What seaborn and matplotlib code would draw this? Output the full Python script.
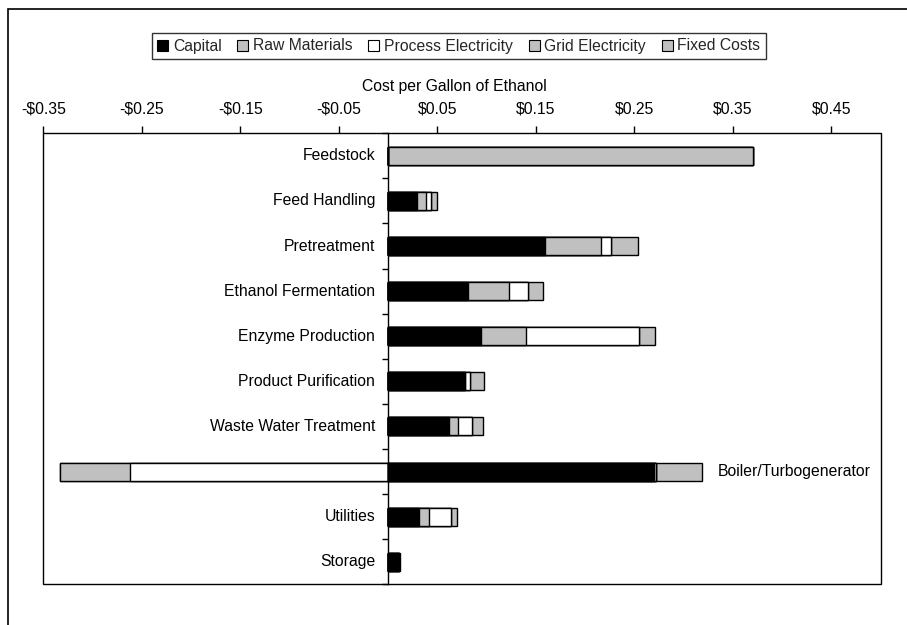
import numpy as np
import seaborn as sns
import matplotlib.pyplot as plt
import matplotlib.ticker as ticker
from matplotlib.patches import Patch, Rectangle

# --- DATA ---
categories = ["Feedstock", "Feed Handling", "Pretreatment", "Ethanol Fermentation",
              "Enzyme Production", "Product Purification", "Waste Water Treatment",
              "Boiler/Turbogenerator", "Utilities", "Storage"]
capital = [0.000, 0.029, 0.159, 0.081, 0.094, 0.078, 0.062, 0.270, 0.031, 0.011]
raw_materials = [0.370, 0.009, 0.057, 0.042, 0.046, 0.000, 0.009, 0.002, 0.010, 0.000]
process_electricity = [0.000, 0.006, 0.010, 0.019, 0.115, 0.005, 0.014, -0.262, 0.023, 0.000]
grid_electricity = [0.000, 0.000, 0.000, 0.000, 0.000, 0.000, 0.000, -0.071, 0.000, 0.000]
fixed_costs = [0.000, 0.006, 0.028, 0.015, 0.016, 0.014, 0.011, 0.047, 0.006, 0.0015]

series_names = ["Capital", "Raw Materials", "Process Electricity", "Grid Electricity", "Fixed Costs"]
series_values = [capital, raw_materials, process_electricity, grid_electricity, fixed_costs]
series_colors = ["black", "#C0C0C0", "white", "#C0C0C0", "#C0C0C0"]
x_ticks = [-0.35, -0.25, -0.15, -0.05, 0.05, 0.15, 0.25, 0.35, 0.45]

FS = 11.3

# --- SETUP ---
sns.set_theme(style="white")
plt.rcParams['font.family'] = ['Liberation Sans', 'DejaVu Sans']

W, H = 907, 625
fig = plt.figure(figsize=(W / 100, H / 100), dpi=100)
ax = fig.add_axes([43.3 / W, 1 - 584.3 / H, (880.7 - 43.3) / W, (584.3 - 133.3) / H])

# gestapelte Balken: kumulierte Summen, größte zuerst zeichnen (Überdeckung)
vals = np.array(series_values)
pos_cum = np.cumsum(np.clip(vals, 0, None), axis=0)
neg_cum = np.cumsum(np.clip(vals, None, 0), axis=0)

for k in range(len(series_names) - 1, -1, -1):
    for cum in (pos_cum, neg_cum):
        sns.barplot(x=cum[k], y=categories, orient='h', color=series_colors[k],
                    saturation=1, edgecolor='black', linewidth=1, width=0.4,
                    errorbar=None, ax=ax)

ax.set_xlim(-0.35, 0.5)
ax.set_ylim(len(categories) - 0.5, -0.5)

# obere x-Achse
ax.xaxis.tick_top()
ax.set_xticks(x_ticks)
ax.xaxis.set_major_formatter(ticker.FuncFormatter(
    lambda v, p: f"-${abs(v):.2f}" if v < 0 else f"${v:.2f}"))
ax.tick_params(axis='x', which='major', top=True, bottom=False, direction='out',
               length=5, width=1, pad=7, labelsize=FS, colors='black')
ax.set_xlabel("")
ax.set_ylabel("")

# y-Achse auf Null legen, Ticks zwischen den Kategorien
ax.spines['left'].set_position(('data', 0))
ax.spines['left'].set_color('black')
ax.spines['left'].set_linewidth(1)
for s in ['top', 'right', 'bottom']:
    ax.spines[s].set_visible(False)
ax.set_yticks([])
ax.set_yticks(np.arange(-0.5, len(categories), 1), minor=True)
ax.tick_params(axis='y', which='minor', left=True, direction='out', length=4,
               width=1, color='black', labelleft=False)
ax.grid(False)

# Rahmen Plotbereich
ax.add_patch(Rectangle((0, 0), 1, 1, transform=ax.transAxes, fill=False,
                       edgecolor='black', linewidth=1, clip_on=False, zorder=5))

# Kategoriebeschriftungen
totals_pos = pos_cum[-1]
totals_neg = neg_cum[-1]
for i, name in enumerate(categories):
    if totals_neg[i] < 0:
        ax.text(totals_pos[i] + 0.016, i, name, ha='left', va='center', fontsize=FS, color='black')
    else:
        ax.text(-0.013, i, name, ha='right', va='center', fontsize=FS, color='black')

# Achsentitel
fig.text(454 / W, 1 - 87 / H, "Cost per Gallon of Ethanol", ha='center', va='center',
         fontsize=FS, color='black')

# Legende
handles = [Patch(facecolor=c, edgecolor='black', linewidth=0.8) for c in series_colors]
leg = fig.legend(handles, series_names, loc='center', bbox_to_anchor=(458.7 / W, 1 - 46 / H),
                 ncol=5, frameon=True, fancybox=False, edgecolor='black', fontsize=FS,
                 handlelength=0.7, handleheight=0.7, handletextpad=0.3,
                 columnspacing=1.0, borderpad=0.35, borderaxespad=0)
leg.get_frame().set_linewidth(1)

# äußerer Rahmen (Diagrammbereich)
fig.patches.append(Rectangle((8 / W, -0.1), 1.2, 1.1 - 9 / H, transform=fig.transFigure,
                             fill=False, edgecolor='black', linewidth=1.2))

plt.savefig("out.png", dpi=100)
